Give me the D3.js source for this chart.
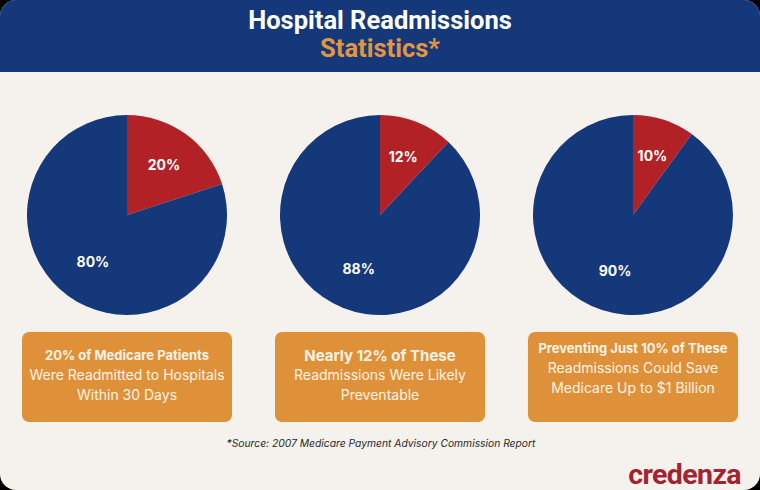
<!DOCTYPE html>
<html>
<head>
<meta charset="utf-8">
<script src="https://cdn.jsdelivr.net/npm/d3@7"></script>
<style>
  html, body { margin: 0; padding: 0; background: #000; }
  svg { display: block; }
</style>
</head>
<body>
<div id="chart"></div>
<script>
const W = 760, H = 490;

// chart data
const titleLines = ["Hospital Readmissions", "Statistics*"];
const sliceNames = ["part", "rest"];
const partShare = [20, 12, 10];
const restShare = [80, 88, 90];
const boxHeads = ["20% of Medicare Patients", "Nearly 12% of These", "Preventing Just 10% of These"];
const boxLines = [
    ["Were Readmitted to Hospitals", "Within 30 Days"],
    ["Readmissions Were Likely", "Preventable"],
    ["Readmissions Could Save", "Medicare Up to $1 Billion"]
];
const sourceNote = "*Source: 2007 Medicare Payment Advisory Commission Report";
const brand = "credenza";

const NAVY = "#15387a", RED = "#b22126", BG = "#f5f1ec", ORANGE = "#df9139";

const svg = d3.select("#chart").append("svg")
    .attr("width", W)
    .attr("height", H);

const defs = svg.append("defs");
defs.append("clipPath").attr("id", "card")
    .append("rect")
    .attr("width", W).attr("height", H)
    .attr("rx", 16).attr("ry", 16);

const card = svg.append("g").attr("clip-path", "url(#card)");

card.append("rect")
    .attr("width", W).attr("height", H)
    .attr("fill", BG);

// header band
card.append("rect")
    .attr("width", W).attr("height", 72)
    .attr("fill", NAVY);

card.selectAll("text.title")
    .data(titleLines)
    .join("text")
    .attr("class", "title")
    .attr("x", W / 2)
    .attr("y", (d, i) => 20 + i * 28)
    .attr("text-anchor", "middle")
    .attr("dominant-baseline", "central")
    .attr("font-family", "Roboto, sans-serif")
    .attr("font-weight", 700)
    .attr("font-size", 25.5)
    .attr("fill", (d, i) => i === 0 ? "#ffffff" : "#e3963f")
    .text(d => d);

// pies
const x = d3.scalePoint()
    .domain(d3.range(partShare.length))
    .range([127, 633]);

const pie = d3.pie().sort(null).value(d => d.value);
const R = 100;
const arc = d3.arc().innerRadius(0).outerRadius(R);
const bigLabel = d3.arc().innerRadius(116).outerRadius(0);
const smallLabel = d3.arc().innerRadius(126).outerRadius(0);

const color = d3.scaleOrdinal().domain(sliceNames).range([RED, NAVY]);

partShare.forEach((p, i) => {
    const data = [
        {name: "part", value: p},
        {name: "rest", value: restShare[i]}
    ];
    const g = card.append("g")
        .attr("transform", `translate(${x(i)},215)`);

    g.selectAll("path")
        .data(pie(data))
        .join("path")
        .attr("d", arc)
        .attr("fill", d => color(d.data.name));

    g.selectAll("text")
        .data(pie(data))
        .join("text")
        .attr("transform", d => {
            const c = (d.data.name === "part" ? smallLabel : bigLabel).centroid(d);
            return `translate(${c})`;
        })
        .attr("text-anchor", "middle")
        .attr("dominant-baseline", "central")
        .attr("font-family", "Inter, sans-serif")
        .attr("font-weight", 700)
        .attr("font-size", 14)
        .attr("fill", "#ffffff")
        .text(d => d.data.value + "%");
});

// description boxes
const bx = d3.scalePoint()
    .domain(d3.range(boxHeads.length))
    .range([22, 528]);
const boxW = 210, boxH = 90;

const boxes = card.selectAll("g.box")
    .data(boxHeads)
    .join("g")
    .attr("class", "box")
    .attr("transform", (d, i) => `translate(${bx(i)},332)`);

boxes.append("rect")
    .attr("width", boxW).attr("height", boxH)
    .attr("rx", 7).attr("ry", 7)
    .attr("fill", ORANGE);

const headSize = [13, 15, 13];
const firstY = [23, 23, 16];

boxes.each(function(head, i) {
    const g = d3.select(this);
    const lines = [head].concat(boxLines[i]);
    g.selectAll("text")
        .data(lines)
        .join("text")
        .attr("x", boxW / 2)
        .attr("y", (d, j) => firstY[i] + j * 19.5)
        .attr("text-anchor", "middle")
        .attr("dominant-baseline", "central")
        .attr("font-family", "Inter, sans-serif")
        .attr("font-weight", (d, j) => j === 0 ? 700 : 400)
        .attr("font-size", (d, j) => j === 0 ? headSize[i] : 14)
        .attr("fill", "#fbf3e6")
        .text(d => d);
});

card.append("text")
    .attr("x", 381)
    .attr("y", 443)
    .attr("text-anchor", "middle")
    .attr("dominant-baseline", "central")
    .attr("font-family", "Inter, sans-serif")
    .attr("font-style", "italic")
    .attr("font-size", 10.3)
    .attr("fill", "#2a2a2a")
    .text(sourceNote);

card.append("text")
    .attr("x", 741)
    .attr("y", 474)
    .attr("text-anchor", "end")
    .attr("dominant-baseline", "central")
    .attr("font-family", "Roboto, sans-serif")
    .attr("font-weight", 700)
    .attr("font-size", 28.5)
    .attr("letter-spacing", -0.6)
    .attr("fill", "#a32430")
    .text(brand);
</script>
</body>
</html>
